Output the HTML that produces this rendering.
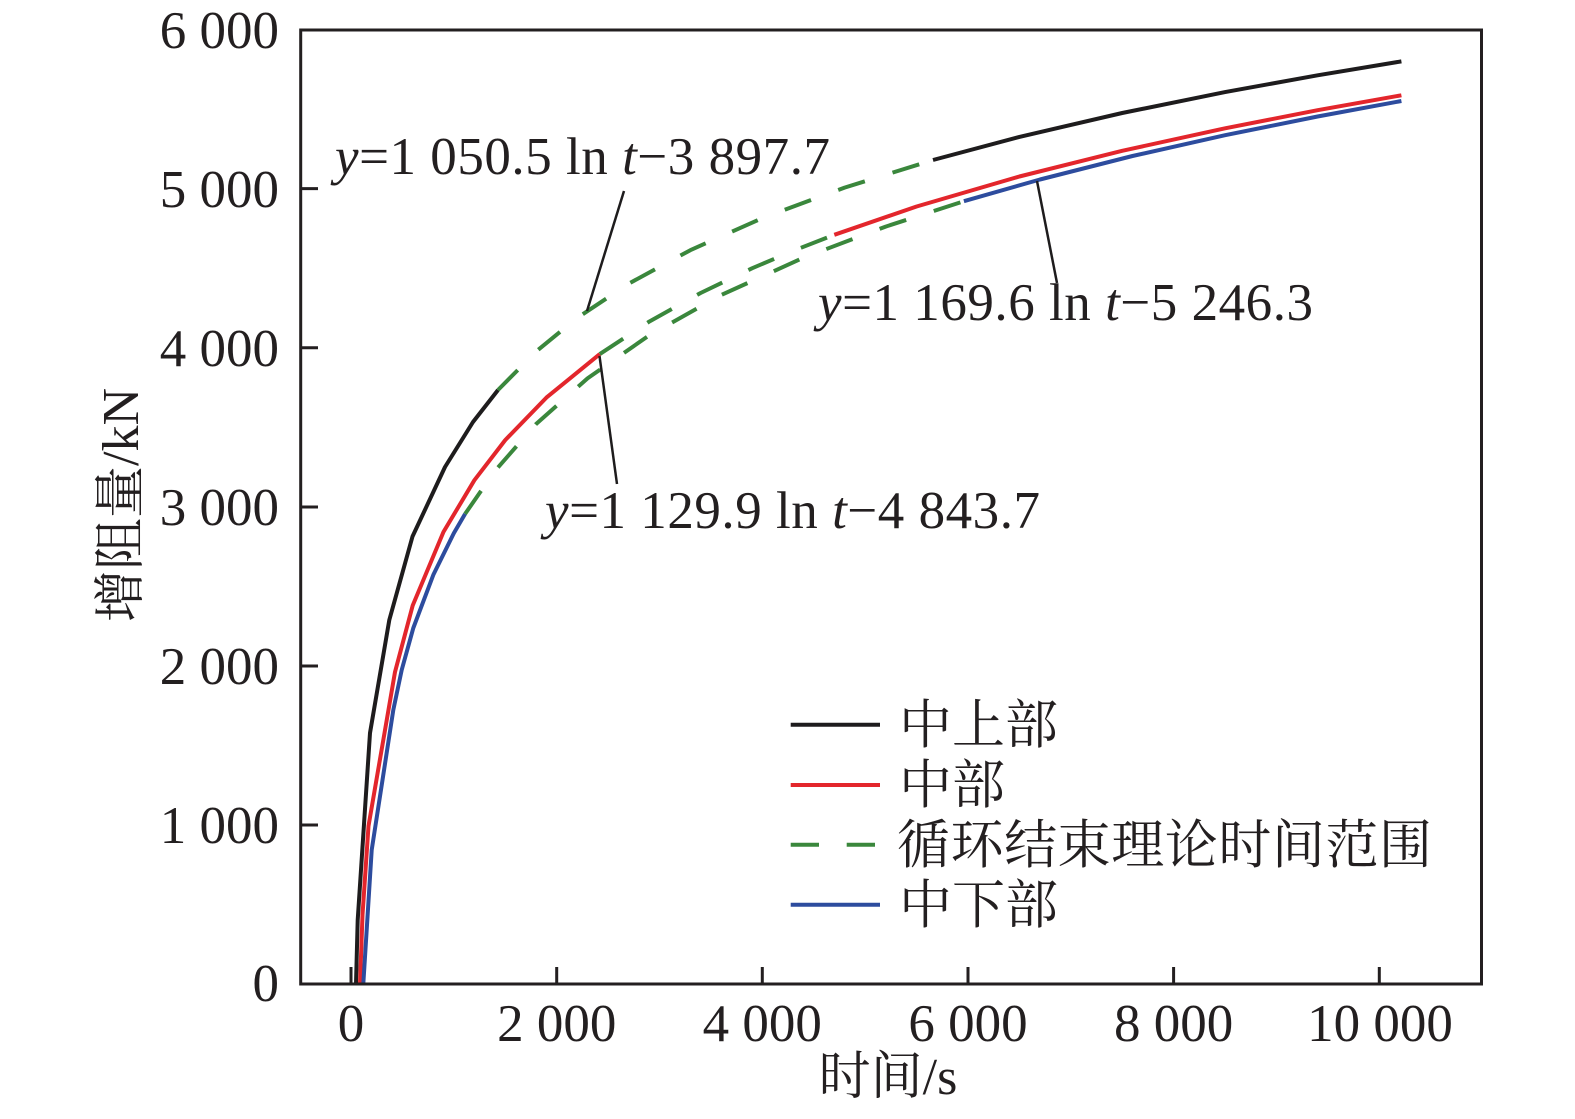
<!DOCTYPE html>
<html>
<head>
<meta charset="utf-8">
<style>
  html, body { margin: 0; padding: 0; background: #ffffff; }
  body { width: 1575px; height: 1119px; overflow: hidden; }
  svg { display: block; }
  text { font-family: "Liberation Serif", "Noto Serif CJK SC", serif; fill: #231f20; }
</style>
</head>
<body>
<svg width="1575" height="1119" viewBox="0 0 1575 1119" xmlns="http://www.w3.org/2000/svg">
  <rect x="0" y="0" width="1575" height="1119" fill="#ffffff"/>

  <!-- data curves -->
  <g fill="none" stroke-width="4" stroke-linejoin="round">
    <!-- black (中上部) -->
    <polyline stroke="#1e1c1d" points="356,984 357.7,920 370,733 389.3,620 412.5,536.5 445,467 473,422 498,390"/>
    <polyline stroke="#1e1c1d" points="933,160 1019.4,136.9 1122.2,113 1225.1,92.1 1317.6,75.3 1401.4,61.4"/>
    <!-- red (中部) -->
    <polyline stroke="#e3262c" points="360,984 362.5,915 368.5,826 395,672 412.7,605.5 443.5,531.9 474.4,480.2 505.2,440.1 546.4,397.6 599.8,354.1"/>
    <polyline stroke="#e3262c" points="834.3,234.8 916.6,206.5 1019.4,176.5 1122.2,150.8 1225.1,128.3 1317.6,110.2 1401.4,95.3"/>
    <!-- blue (中下部) -->
    <polyline stroke="#2d4c9e" points="363.3,984 371.7,850 393.3,710 401.7,670 413.3,628 433.3,574.9 453.8,533.3 465.1,513.9"/>
    <polyline stroke="#2d4c9e" points="963.9,201.2 1040,179.5 1132.5,156 1225.1,135.2 1317.6,116.5 1401.4,101"/>
    <!-- green dashed theoretical ranges -->
    <polyline stroke="#3a873c" stroke-dasharray="28 29" points="498,390 536.1,351.5 577.2,317.9 628.6,283.7 690.3,250.2 762.3,218.1 844.6,187.6 933,160"/>
    <polyline stroke="#3a873c" stroke-dasharray="28 29" points="599.8,354.1 649.2,321.6 700.6,293 752,268.3 793.2,250.8 834.3,234.8"/>
    <polyline stroke="#3a873c" stroke-dasharray="28 29" points="465.1,513.9 495,470.8 536.1,424 587.5,378.4 649.2,335.3 721.2,295 803.5,257.7 885.7,226.6 963.9,201.2"/>
  </g>

  <!-- leader lines -->
  <g stroke="#1e1c1d" stroke-width="2.5" fill="none">
    <line x1="624" y1="191" x2="587" y2="311"/>
    <line x1="599.5" y1="356" x2="617" y2="484"/>
    <line x1="1037" y1="181" x2="1057" y2="283"/>
  </g>

  <!-- axes frame -->
  <rect x="300.7" y="30" width="1180.8" height="954" fill="none" stroke="#231f20" stroke-width="3"/>

  <!-- y ticks -->
  <g stroke="#231f20" stroke-width="3">
    <line x1="300.7" y1="825" x2="318" y2="825"/>
    <line x1="300.7" y1="666" x2="318" y2="666"/>
    <line x1="300.7" y1="507" x2="318" y2="507"/>
    <line x1="300.7" y1="347.7" x2="318" y2="347.7"/>
    <line x1="300.7" y1="188.6" x2="318" y2="188.6"/>
    <!-- x ticks -->
    <line x1="351" y1="984" x2="351" y2="967"/>
    <line x1="556.7" y1="984" x2="556.7" y2="967"/>
    <line x1="762.3" y1="984" x2="762.3" y2="967"/>
    <line x1="968" y1="984" x2="968" y2="967"/>
    <line x1="1173.6" y1="984" x2="1173.6" y2="967"/>
    <line x1="1379.3" y1="984" x2="1379.3" y2="967"/>
  </g>

  <!-- y tick labels -->
  <g font-size="53" text-anchor="end">
    <text x="279" y="48">6 000</text>
    <text x="279" y="207">5 000</text>
    <text x="279" y="366">4 000</text>
    <text x="279" y="525">3 000</text>
    <text x="279" y="684">2 000</text>
    <text x="279" y="843">1 000</text>
    <text x="279" y="1001">0</text>
  </g>

  <!-- x tick labels -->
  <g font-size="53" text-anchor="middle">
    <text x="351" y="1041">0</text>
    <text x="556.7" y="1041">2 000</text>
    <text x="762.3" y="1041">4 000</text>
    <text x="968" y="1041">6 000</text>
    <text x="1173.6" y="1041">8 000</text>
    <text x="1380" y="1041">10 000</text>
  </g>

  <!-- axis titles -->
  <text x="888" y="1094" font-size="52" text-anchor="middle">时间/s</text>
  <text transform="translate(138,505) rotate(-90)" font-size="52" text-anchor="middle">增阻量/kN</text>

  <!-- equation annotations -->
  <text x="335" y="174" font-size="53" textLength="495" lengthAdjust="spacing"><tspan font-style="italic">y</tspan>=1 050.5 ln <tspan font-style="italic">t</tspan>−3 897.7</text>
  <text x="818" y="320" font-size="53" textLength="495" lengthAdjust="spacing"><tspan font-style="italic">y</tspan>=1 169.6 ln <tspan font-style="italic">t</tspan>−5 246.3</text>
  <text x="545" y="528" font-size="53" textLength="495" lengthAdjust="spacing"><tspan font-style="italic">y</tspan>=1 129.9 ln <tspan font-style="italic">t</tspan>−4 843.7</text>

  <!-- legend -->
  <g stroke-width="4">
    <line x1="790.7" y1="724.7" x2="880" y2="724.7" stroke="#1e1c1d"/>
    <line x1="790.7" y1="785" x2="880" y2="785" stroke="#e3262c"/>
    <line x1="790.7" y1="844.7" x2="819" y2="844.7" stroke="#3a873c"/>
    <line x1="846.7" y1="844.7" x2="875" y2="844.7" stroke="#3a873c"/>
    <line x1="790.7" y1="904.7" x2="880" y2="904.7" stroke="#2d4c9e"/>
  </g>
  <g font-size="53">
    <text x="899" y="743">中上部</text>
    <text x="899" y="803">中部</text>
    <text x="897" y="863" textLength="535" lengthAdjust="spacing">循环结束理论时间范围</text>
    <text x="899" y="923">中下部</text>
  </g>
</svg>
</body>
</html>
